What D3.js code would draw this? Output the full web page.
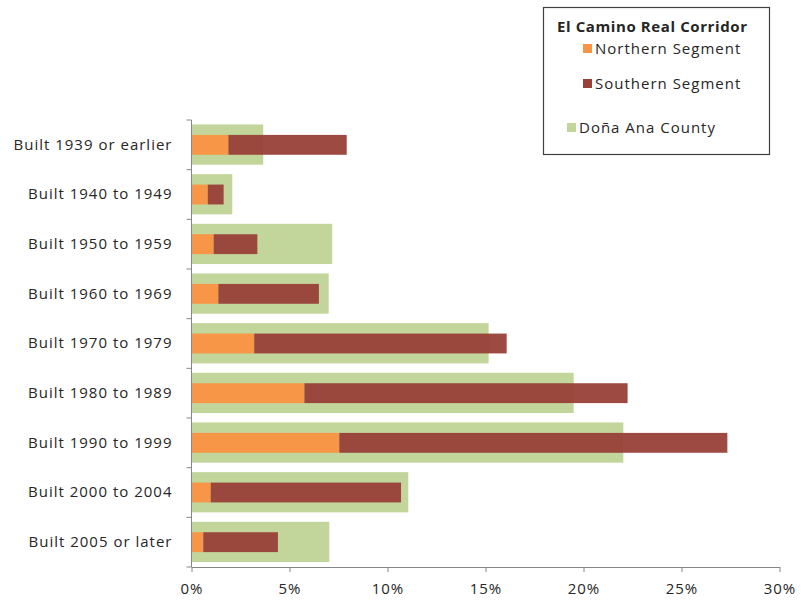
<!DOCTYPE html>
<html>
<head>
<meta charset="utf-8">
<script src="https://cdn.jsdelivr.net/npm/d3@7"></script>
<style>
  body { margin: 0; background: #fff; }
  text { font-family: "Open Sans", sans-serif; fill: #262626; }
</style>
</head>
<body>
<script>
// housing age chart - corridor segments vs county

let w = 801;
let h = 602;

let categories = [
    'Built 1939 or earlier',
    'Built 1940 to 1949',
    'Built 1950 to 1959',
    'Built 1960 to 1969',
    'Built 1970 to 1979',
    'Built 1980 to 1989',
    'Built 1990 to 1999',
    'Built 2000 to 2004',
    'Built 2005 or later'
];

let northern = [1.88, 0.83, 1.13, 1.37, 3.2, 5.76, 7.54, 0.98, 0.6];
let southern = [6.04, 0.81, 2.23, 5.13, 12.88, 16.49, 19.8, 9.71, 3.81];
let county = [3.66, 2.08, 7.18, 7.0, 15.16, 19.5, 22.03, 11.06, 7.03];

let xTicks = [0, 5, 10, 15, 20, 25, 30];

let colors = { north: '#f79646', south: '#984039', county: '#c2d69b' };

let plotLeft = 191.5, plotRight = 779.5, plotTop = 120, plotBottom = 567;
let font = '"Open Sans", sans-serif';

let svg = d3.select('body').append('svg').attr('width', w).attr('height', h);

let x = d3.scaleLinear().domain([0, 30]).range([plotLeft, plotRight]);
let y = d3.scaleBand().domain(categories).range([plotTop, plotBottom]).padding(0);

let rows = categories.map((c, i) => ({ cat: c, north: northern[i], south: southern[i], county: county[i] }));
let stacked = d3.stack().keys(['north', 'south'])(rows);

// county bars behind
svg.append('g').selectAll('rect')
    .data(rows)
    .enter()
    .append('rect')
    .attr('x', x(0))
    .attr('y', d => y(d.cat) + y.bandwidth() * 0.09)
    .attr('width', d => x(d.county) - x(0))
    .attr('height', y.bandwidth() * 0.81)
    .attr('fill', colors.county);

// corridor segments, stacked
svg.append('g').selectAll('g')
    .data(stacked)
    .enter()
    .append('g')
    .attr('fill', s => colors[s.key])
    .attr('fill-opacity', s => s.key == 'south' ? 0.95 : 1)
    .selectAll('rect')
    .data(s => s)
    .enter()
    .append('rect')
    .attr('x', d => x(d[0]))
    .attr('y', d => y(d.data.cat) + y.bandwidth() * 0.3)
    .attr('width', d => x(d[1]) - x(d[0]))
    .attr('height', y.bandwidth() * 0.4);

// x axis
let xAxis = svg.append('g')
    .attr('transform', `translate(0,${plotBottom})`)
    .call(d3.axisBottom(x).tickValues(xTicks).tickFormat(d => d + '%').tickSize(5).tickSizeOuter(0).tickPadding(11));
xAxis.select('.domain').attr('stroke', '#868686');
xAxis.selectAll('.tick line').attr('stroke', '#868686');
xAxis.selectAll('text').attr('font-size', '15px').attr('font-family', font)
    .attr('letter-spacing', '1px').attr('fill', '#262626');

// y axis
let yAxis = svg.append('g')
    .attr('transform', `translate(${plotLeft},0)`)
    .call(d3.axisLeft(y).tickSize(0).tickPadding(19));
yAxis.select('.domain').attr('stroke', '#868686').attr('d', `M0,${plotTop}V${plotBottom}`);
yAxis.selectAll('text').attr('font-size', '15px').attr('font-family', font)
    .attr('letter-spacing', '1px').attr('fill', '#262626');

let bounds = categories.map(c => y(c)).concat([plotBottom]);
yAxis.selectAll('line.bound')
    .data(bounds)
    .enter()
    .append('line')
    .attr('class', 'bound')
    .attr('x1', -5).attr('x2', 0)
    .attr('y1', d => d).attr('y2', d => d)
    .attr('stroke', '#868686');

// legend
let legend = svg.append('g');
legend.append('rect')
    .attr('x', 543.5).attr('y', 7.5).attr('width', 226).attr('height', 147)
    .attr('fill', '#fff').attr('stroke', '#404040').attr('stroke-width', 1.2);
legend.append('text')
    .attr('x', 557).attr('y', 32)
    .attr('font-size', '15px').attr('font-weight', 'bold')
    .attr('letter-spacing', '0.6px')
    .text('El Camino Real Corridor');

let legendItems = [
    { label: 'Northern Segment', color: colors.north, sx: 583, ty: 49 },
    { label: 'Southern Segment', color: colors.south, sx: 583, ty: 84 },
    { label: 'Doña Ana County', color: colors.county, sx: 567, ty: 128 }
];

legend.selectAll('rect.key')
    .data(legendItems)
    .enter()
    .append('rect')
    .attr('class', 'key')
    .attr('x', d => d.sx).attr('y', d => d.ty - 5)
    .attr('width', 9).attr('height', 9)
    .attr('fill', d => d.color);

legend.selectAll('text.item')
    .data(legendItems)
    .enter()
    .append('text')
    .attr('class', 'item')
    .attr('x', d => d.sx + 12).attr('y', d => d.ty)
    .attr('dy', '0.35em')
    .attr('font-size', '15px')
    .attr('letter-spacing', '1px')
    .text(d => d.label);
</script>
</body>
</html>
